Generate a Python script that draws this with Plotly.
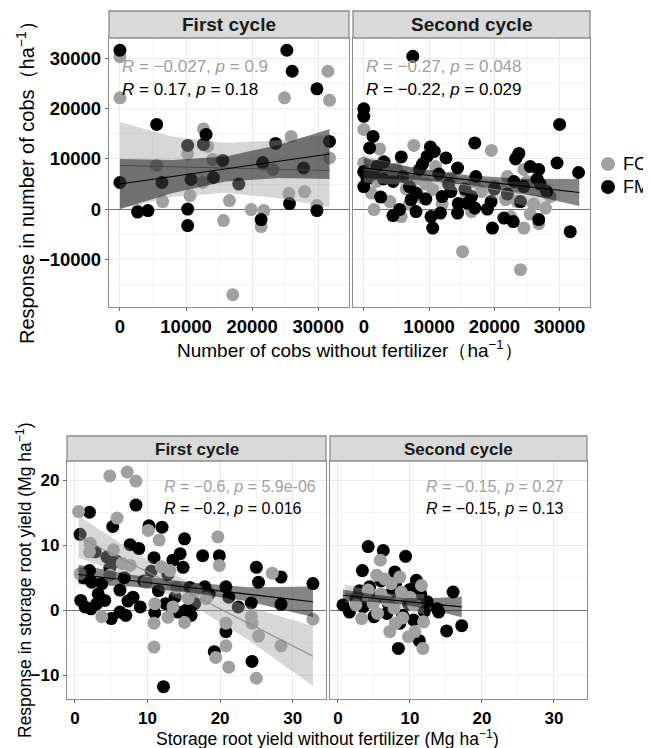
import plotly.graph_objects as go

FONT = "Liberation Sans, Arial, sans-serif"
FC_COL = "#a0a0a0"
FM_COL = "#000000"
PAGE_W, PAGE_H = 651, 748
OFF = 8                      # page body margin of the browser
W, H = PAGE_W - OFF, PAGE_H - OFF

# ---------------- Top: number of cobs ----------------
cobs_c1_fc_x = [0, 0, 24900, 31460, 31700, 25900, 12630, 10250, 13280, 14040, 5560, 31700, 23130, 21600,
                6460, 10600, 12530, 16570, 15660, 19850, 21770, 21360, 25550, 27930, 29800, 17070, 2680]
cobs_c1_fc_y = [30400, 22200, 22200, 27500, 21700, 14500, 16000, 11000, 12500, 9900, 8700, 10200, 7900, 9000,
                1500, 2700, 5300, 1700, -2300, -100, -300, -3500, 3100, 3500, 700, -17100, -300]
cobs_c1_fm_x = [0, 25250, 26060, 29800, 5560, 13030, 12630, 10250, 23540, 31700, 15560, 21600, 14140, 6360,
                10760, 17980, 27780, 0, 25650, 4240, 2680, 10250, 10250, 21360, 29800]
cobs_c1_fm_y = [31700, 31700, 27500, 24000, 16900, 14900, 12900, 12700, 13100, 13500, 9700, 9300, 6300, 5300,
                5900, 5000, 8200, 5300, 1100, -300, -600, 0, -3300, -2100, -300]

cobs_c2_fc_x = [0, 2440, 7660, 19540, 0, 0, 1930, 1170, 1570, 5740, 10560, 9040, 15130, 24010, 23500, 24520,
                21730, 23500, 24520, 26800, 27820, 28580, 22490, 13350, 15630, 3500, 5000, 6500, 8000, 9500,
                11000, 12000, 17000, 18000, 20000, 22000, 25000, 26000, 4000, 7000, 3000, 16500, 25500]
cobs_c2_fc_y = [15900, 12000, 12700, 11700, 9200, 7200, 5500, 3200, -100, -1500, 3900, 2200, -8500, -12100,
                10500, 7900, 1900, 1500, -3800, -2900, 200, 2500, -1500, 6200, 3200, 7500, 8000, 4000, 6000,
                5000, 8500, 1000, 5500, 3500, 4500, 6500, 5500, 1000, 1500, 1000, 9500, -500, -1000]
cobs_c2_fm_x = [7510, 0, 0, 1420, 910, 30000, 17000, 3100, 5740, 10200, 12590, 14370, 8530, 9700, 10800,
                23760, 23250, 29600, 32900, 26800, 26550, 17160, 23000, 0, 2590, 7260, 8020, 4470, 5480,
                10300, 11730, 10560, 14370, 15890, 17000, 18930, 19700, 21470, 22890, 26800, 31620, 14470,
                13350, 1500, 3000, 4500, 6000, 7000, 9000, 11500, 13000, 15500, 16500, 20000, 22000, 24500,
                25500, 27000, 0, 2000, 500, 9500, 12000, 8000, 19500, 24000, 28000]
cobs_c2_fm_y = [30500, 20000, 18500, 14500, 12200, 16900, 13200, 9400, 10400, 12400, 10200, 8200, 7900, 10500,
                11500, 11100, 10000, 9200, 7300, 7900, 6000, 6500, 5500, 4500, 2400, 1900, 3200, -1300, -100,
                -1500, -800, -3800, -800, 1200, 200, 0, -3800, -1800, -2500, -2100, -4500, 1100, 3500, 7000,
                6000, 5500, 6500, 4500, 9000, 7000, 5000, 4000, 2500, 4000, 3000, 4500, 8500, 5000, 7500,
                8500, 6000, 2000, 2500, -500, 1500, 1500, 3500]

# regression lines and 95% bands (x, fit, lower, upper)
cobs_c1_fc_band_x = [0, 8000, 16000, 24000, 31700]
cobs_c1_fc_fit = [8700, 8450, 8200, 7950, 7700]
cobs_c1_fc_lo = [0, 2450, 3200, 2150, 400]
cobs_c1_fc_hi = [17400, 14450, 13200, 13750, 15000]
cobs_c1_fm_band_x = [0, 8000, 16000, 24000, 31700]
cobs_c1_fm_fit = [5000, 6500, 8000, 9500, 11000]
cobs_c1_fm_lo = [0, 3200, 5500, 6200, 6000]
cobs_c1_fm_hi = [10000, 9800, 10500, 12800, 16000]

cobs_c2_fc_band_x = [0, 7000, 14000, 21000, 28600]
cobs_c2_fc_fit = [8000, 6580, 5160, 3740, 2200]
cobs_c2_fc_lo = [5300, 4780, 3660, 1840, -700]
cobs_c2_fc_hi = [10700, 8380, 6660, 5640, 5100]
cobs_c2_fm_band_x = [0, 8000, 16000, 24000, 33000]
cobs_c2_fm_fit = [8200, 7010, 5820, 4640, 3300]
cobs_c2_fm_lo = [6200, 5810, 4870, 3240, 600]
cobs_c2_fm_hi = [10200, 8210, 6770, 6040, 6000]

# ---------------- Bottom: storage root yield ----------------
root_c1_fc_x = [4.8, 7.2, 8.4, 0.5, 5.8, 10.1, 11.6, 2.1, 5.3, 7.6, 11.9, 13.1, 19.7, 19.9, 27.2, 0.7, 4.8,
                9.8, 16.7, 18.1, 15.6, 11.0, 3.7, 10.9, 10.9, 12.8, 15.1, 20.8, 24.3, 24.4, 25.3, 28.4, 32.8,
                20.8, 19.4, 21.2, 25.0, 6.5, 2.0, 14.0, 13.5]
root_c1_fc_y = [20.7, 21.3, 19.9, 15.2, 14.2, 12.3, 10.8, 10.3, 9.3, 6.9, 6.7, 6.1, 11.3, 6.9, 5.7, 5.6, 5.4,
                4.3, 3.1, 1.8, 1.8, 1.0, -1.0, -2.0, -5.7, -1.1, -1.9, -2.0, -1.0, -2.0, -4.0, -5.5, -1.4,
                -5.5, -7.3, -8.8, -10.5, 7.2, 9.0, 3.5, 0.5]
root_c1_fm_x = [0.7, 2.0, 8.4, 5.2, 7.6, 10.2, 12.0, 15.1, 10.9, 13.5, 17.6, 19.9, 14.5, 14.9, 25.0, 25.3,
                28.4, 20.8, 32.8, 2.0, 2.3, 3.7, 6.2, 0.8, 1.4, 2.2, 3.0, 4.1, 5.0, 6.2, 7.3, 11.0, 14.2, 15.3,
                20.8, 19.2, 24.4, 12.2, 24.3, 28.4, 17.9, 4.4, 1.2, 3.2, 4.8, 6.8, 8.0, 9.5, 11.5, 12.8, 13.8,
                15.8, 16.5, 18.5, 21.2, 22.5, 2.8, 5.8, 8.8, 10.5, 12.5, 16.0, 9.0, 7.0]
root_c1_fm_y = [11.7, 15.1, 16.2, 12.9, 10.1, 13.0, 12.8, 11.0, 8.1, 7.7, 8.4, 8.4, 8.7, 6.6, 6.6, 4.3, 5.1,
                3.6, 4.1, 6.1, 4.3, 4.1, 3.1, 1.5, 0.5, 0.2, 1.0, 1.5, -1.3, -0.3, 1.4, -0.4, -0.3, 0.0, -3.3,
                -6.4, -7.9, -11.8, 1.1, 0.9, 3.6, 8.2, 5.0, 2.5, 6.5, 5.0, 2.0, 4.5, 3.0, 5.5, 2.0, 3.5, 1.0,
                2.5, 2.0, 0.5, 9.0, 7.5, 9.5, 6.0, 1.0, -0.8, 0.5, -0.8]

root_c2_fc_x = [5.9, 5.4, 7.4, 8.6, 11.6, 10.0, 3.3, 7.2, 9.8, 10.7, 11.8, 11.9, 4.9, 4.2, 6.0, 7.8, 8.8,
                5.5, 9.0, 6.5, 10.5, 2.5, 8.0, 6.8]
root_c2_fc_y = [7.7, 5.4, 4.1, 5.1, 3.8, 2.0, -1.3, -3.3, -4.1, -3.3, -5.9, -1.8, 1.0, 3.1, 2.5, 0.3, 2.8,
                -0.5, -1.2, 4.8, 0.8, 0.8, -2.0, 1.5]
root_c2_fm_x = [4.2, 6.3, 9.4, 3.4, 7.9, 10.9, 16.0, 12.4, 14.0, 17.2, 15.1, 8.4, 11.3, 0.7, 1.6, 3.5, 4.4,
                8.6, 5.5, 6.8, 7.5, 9.8, 10.5, 2.5, 5.0, 6.0, 8.0, 9.0, 11.5, 13.8, 3.0, 7.0, 10.0, 12.0]
root_c2_fm_y = [9.8, 9.2, 8.3, 6.1, 5.9, 4.6, 2.8, 1.3, -0.3, -2.4, -3.2, -5.9, -4.7, 0.8, -0.3, 0.5, 3.6,
                -2.0, 2.0, -0.5, 2.8, 1.0, -1.5, 1.8, -1.0, 4.5, 4.0, -0.8, 2.5, 0.2, 3.0, 1.0, 3.2, -0.2]

root_c1_fc_band_x = [0.5, 8, 16, 24, 32.8]
root_c1_fc_fit = [11.3, 7.03, 2.47, -2.09, -7.1]
root_c1_fc_lo = [8.1, 5.03, 0.87, -4.69, -11.7]
root_c1_fc_hi = [14.5, 9.03, 4.07, 0.51, -2.5]
root_c1_fm_band_x = [0.5, 8, 16, 24, 32.8]
root_c1_fm_fit = [5.5, 4.52, 3.48, 2.44, 1.3]
root_c1_fm_lo = [4.0, 3.62, 2.68, 1.34, -1.05]
root_c1_fm_hi = [7.0, 5.42, 4.28, 3.54, 3.65]

root_c2_fc_band_x = [1.0, 3.75, 6.5, 9.25, 12.0]
root_c2_fc_fit = [2.6, 2.18, 1.75, 1.33, 0.9]
root_c2_fc_lo = [1.2, 1.18, 0.85, 0.23, -0.7]
root_c2_fc_hi = [4.0, 3.18, 2.65, 2.43, 2.5]
root_c2_fm_band_x = [0.7, 4.8, 9.0, 13.0, 17.2]
root_c2_fm_fit = [2.3, 1.85, 1.39, 0.95, 0.5]
root_c2_fm_lo = [1.4, 1.25, 0.89, 0.05, -1.1]
root_c2_fm_hi = [3.2, 2.45, 1.89, 1.85, 2.1]

# correlation labels
cobs_labels = [("<i>R</i> = −0.027, <i>p</i> = 0.9", "<i>R</i> = 0.17, <i>p</i> = 0.18"),
               ("<i>R</i> = −0.27, <i>p</i> = 0.048", "<i>R</i> = −0.22, <i>p</i> = 0.029")]
root_labels = [("<i>R</i> = −0.6, <i>p</i> = 5.9e-06", "<i>R</i> = −0.2, <i>p</i> = 0.016"),
               ("<i>R</i> = −0.15, <i>p</i> = 0.27", "<i>R</i> = −0.15, <i>p</i> = 0.13")]
cycles = ["First cycle", "Second cycle"]
groups = ["FC", "FM"]
cobs_ticks = [-10000, 0, 10000, 20000, 30000]
root_ticks = [-10, 0, 10, 20]

fig = go.Figure()


def add_panel(xa, ya, fc_x, fc_y, fm_x, fm_y, fc_band, fm_band, msize, fm_first):
    order = [("FM", fm_x, fm_y, FM_COL), ("FC", fc_x, fc_y, FC_COL)]
    if not fm_first:
        order = order[::-1]
    for name, xs, ys, col in order:
        fig.add_trace(go.Scatter(x=xs, y=ys, mode="markers", name=name, xaxis=xa, yaxis=ya,
                                 marker=dict(color=col, size=msize, line=dict(width=0)),
                                 showlegend=False))
    for band, fill, lcol in ((fc_band, "rgba(160,160,160,0.42)", "#8a8a8a"),
                             (fm_band, "rgba(0,0,0,0.48)", "#000000")):
        bx, fit, lo, hi = band
        fig.add_trace(go.Scatter(x=list(bx) + list(bx)[::-1], y=list(hi) + list(lo)[::-1],
                                 fill="toself", fillcolor=fill, line=dict(width=0), mode="lines",
                                 xaxis=xa, yaxis=ya, showlegend=False, hoverinfo="skip"))
        fig.add_trace(go.Scatter(x=[bx[0], bx[-1]], y=[fit[0], fit[-1]], mode="lines",
                                 line=dict(color=lcol, width=1.1), xaxis=xa, yaxis=ya,
                                 showlegend=False, hoverinfo="skip"))


add_panel("x", "y", cobs_c1_fc_x, cobs_c1_fc_y, cobs_c1_fm_x, cobs_c1_fm_y,
          (cobs_c1_fc_band_x, cobs_c1_fc_fit, cobs_c1_fc_lo, cobs_c1_fc_hi),
          (cobs_c1_fm_band_x, cobs_c1_fm_fit, cobs_c1_fm_lo, cobs_c1_fm_hi), 13, False)
add_panel("x2", "y2", cobs_c2_fc_x, cobs_c2_fc_y, cobs_c2_fm_x, cobs_c2_fm_y,
          (cobs_c2_fc_band_x, cobs_c2_fc_fit, cobs_c2_fc_lo, cobs_c2_fc_hi),
          (cobs_c2_fm_band_x, cobs_c2_fm_fit, cobs_c2_fm_lo, cobs_c2_fm_hi), 13, False)
add_panel("x3", "y3", root_c1_fc_x, root_c1_fc_y, root_c1_fm_x, root_c1_fm_y,
          (root_c1_fc_band_x, root_c1_fc_fit, root_c1_fc_lo, root_c1_fc_hi),
          (root_c1_fm_band_x, root_c1_fm_fit, root_c1_fm_lo, root_c1_fm_hi), 13, True)
add_panel("x4", "y4", root_c2_fc_x, root_c2_fc_y, root_c2_fm_x, root_c2_fm_y,
          (root_c2_fc_band_x, root_c2_fc_fit, root_c2_fc_lo, root_c2_fc_hi),
          (root_c2_fm_band_x, root_c2_fm_fit, root_c2_fm_lo, root_c2_fm_hi), 13, True)


def px(v):
    return (v - OFF) / W


def py(v):
    return 1 - (v - OFF) / H


def axis(domain, rng, dtick, minor, anchor, labels, tsize, zero=False, tickvals=None):
    d = dict(domain=domain, range=rng, anchor=anchor, showgrid=True, gridcolor="#ebebeb", gridwidth=1,
             minor=dict(dtick=minor, showgrid=True, gridcolor="#f5f5f5", gridwidth=0.7, ticks=""),
             tick0=0, dtick=dtick, tickformat="d", showline=True, mirror=True, linecolor="#8c8c8c",
             linewidth=1.3, ticks="outside" if labels else "", ticklen=3, tickcolor="#666666", tickwidth=1,
             showticklabels=labels, zeroline=zero, zerolinecolor="#707070", zerolinewidth=1.2,
             tickfont=dict(family=FONT, size=tsize, color="#000000", weight="bold"), fixedrange=True)
    if tickvals is not None:
        d["tickmode"] = "array"
        d["tickvals"] = tickvals
    return d


top_y = [py(307), py(38)]
bot_y = [py(699), py(461)]
top_x1, top_x2 = [px(109), px(349)], [px(353), px(590)]
bot_x1, bot_x2 = [px(67), px(326)], [px(330), px(587)]
xr_top, yr_top = [-1650, 34650], [-19540, 34140]
xr_bot, yr_bot = [-1.1, 34.6], [-13.7, 23.0]

fig.update_layout(
    width=W, height=H, margin=dict(l=0, r=0, t=0, b=0), plot_bgcolor="white", paper_bgcolor="white",
    font=dict(family=FONT), showlegend=False,
    xaxis=axis(top_x1, xr_top, 10000, 5000, "y", True, 18.5),
    xaxis2=axis(top_x2, xr_top, 10000, 5000, "y2", True, 18.5),
    yaxis=axis(top_y, yr_top, 10000, 5000, "x", True, 18.5, zero=True, tickvals=cobs_ticks),
    yaxis2=axis(top_y, yr_top, 10000, 5000, "x2", False, 18.5, zero=True),
    xaxis3=axis(bot_x1, xr_bot, 10, 5, "y3", True, 17),
    xaxis4=axis(bot_x2, xr_bot, 10, 5, "y4", True, 17),
    yaxis3=axis(bot_y, yr_bot, 10, 5, "x3", True, 17, zero=True, tickvals=root_ticks),
    yaxis4=axis(bot_y, yr_bot, 10, 5, "x4", False, 17, zero=True),
)

shapes, annots = [], []
for dom, top, bot in ((top_x1, 11, 38), (top_x2, 11, 38), (bot_x1, 436, 461), (bot_x2, 436, 461)):
    shapes.append(dict(type="rect", xref="paper", yref="paper", x0=dom[0], x1=dom[1], y0=py(bot), y1=py(top),
                       fillcolor="#d9d9d9", line=dict(color="#8c8c8c", width=1.3), layer="above"))
cyc_iter = [(top_x1, 25, 19, cycles[0]), (top_x2, 25, 19, cycles[1]),
            (bot_x1, 449, 17, cycles[0]), (bot_x2, 449, 17, cycles[1])]
for dom, yc, fs, txt in cyc_iter:
    annots.append(dict(text=txt, xref="paper", yref="paper", x=(dom[0] + dom[1]) / 2, y=py(yc),
                       showarrow=False, font=dict(family=FONT, size=fs, color="#1a1a1a", weight="bold"),
                       xanchor="center", yanchor="middle"))

for (xa, ya), (g, b) in zip((("x", "y"), ("x2", "y2")), cobs_labels):
    annots.append(dict(text=g, x=0, y=28500, xref=xa, yref=ya, showarrow=False, xanchor="left",
                       yanchor="middle", font=dict(family=FONT, size=17, color="#a0a0a0")))
    annots.append(dict(text=b, x=0, y=23900, xref=xa, yref=ya, showarrow=False, xanchor="left",
                       yanchor="middle", font=dict(family=FONT, size=17, color="#000000")))
for (xa, ya), (g, b) in zip((("x3", "y3"), ("x4", "y4")), root_labels):
    annots.append(dict(text=g, x=12.0, y=19.1, xref=xa, yref=ya, showarrow=False, xanchor="left",
                       yanchor="middle", font=dict(family=FONT, size=16, color="#a0a0a0")))
    annots.append(dict(text=b, x=12.0, y=15.7, xref=xa, yref=ya, showarrow=False, xanchor="left",
                       yanchor="middle", font=dict(family=FONT, size=16, color="#000000")))

# legend (top chart only)
for name, col, yc in ((groups[0], FC_COL, 164), (groups[1], FM_COL, 187)):
    shapes.append(dict(type="circle", xref="paper", yref="paper", xsizemode="pixel", ysizemode="pixel",
                       xanchor=px(608), yanchor=py(yc), x0=-7, x1=7, y0=-7, y1=7,
                       fillcolor=col, line=dict(width=0)))
    annots.append(dict(text=name, xref="paper", yref="paper", x=px(621), y=py(yc), showarrow=False,
                       xanchor="left", yanchor="middle", font=dict(family=FONT, size=18, color="#000000")))

annots += [
    dict(text="Response in number of cobs（ha<sup>−1</sup>）", xref="paper", yref="paper", x=px(25), y=py(178),
         textangle=-90, showarrow=False, xanchor="center", yanchor="middle",
         font=dict(family=FONT, size=20, color="#000000")),
    dict(text="Number of cobs without fertilizer（ha<sup>−1</sup>）", xref="paper", yref="paper",
         x=px(350), y=py(349), showarrow=False, xanchor="center", yanchor="middle",
         font=dict(family=FONT, size=19, color="#000000")),
    dict(text="Response in storage root yield (Mg ha<sup>−1</sup>)", xref="paper", yref="paper", x=px(24),
         y=py(580), textangle=-90, showarrow=False, xanchor="center", yanchor="middle",
         font=dict(family=FONT, size=17.5, color="#000000")),
    dict(text="Storage root yield without fertilizer (Mg ha<sup>−1</sup>)", xref="paper", yref="paper",
         x=px(327), y=py(738), showarrow=False, xanchor="center", yanchor="middle",
         font=dict(family=FONT, size=17.5, color="#000000")),
]
fig.update_layout(shapes=shapes, annotations=annots)
fig.write_html("out.html")
